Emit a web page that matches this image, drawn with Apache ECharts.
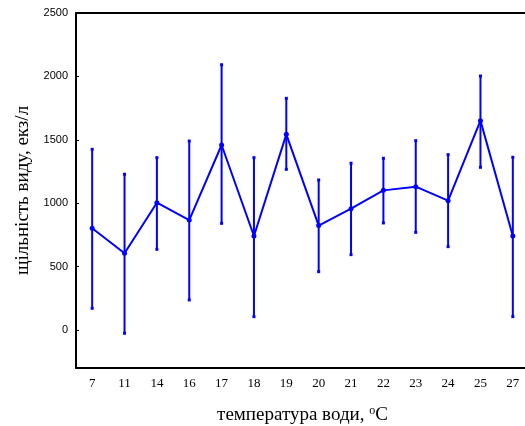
<!DOCTYPE html>
<html><head><meta charset="utf-8">
<script src="https://cdn.jsdelivr.net/npm/echarts@6/dist/echarts.min.js"></script>
<style>html,body{margin:0;padding:0;background:#fff}#c{width:525px;height:426px}</style>
</head><body><div id="c"></div>
<script>
const categories = ['7','11','14','16','17','18','19','20','21','22','23','24','25','27'];
const means = [802, 605, 1004, 867, 1459, 741, 1543, 823, 957, 1101, 1130, 1020, 1651, 741];
const upper = [1425, 1228, 1359, 1490, 2092, 1359, 1827, 1183, 1315, 1354, 1493, 1383, 2003, 1362];
const lower = [171, -26, 636, 237, 841, 105, 1267, 460, 594, 844, 770, 657, 1283, 105];
const yTicks = [0, 500, 1000, 1500, 2000, 2500];

const chart = echarts.init(document.getElementById('c'));
const blue = '#0000ff';
const errData = categories.map((c, i) => [i, lower[i], upper[i]]);
chart.setOption({
  animation: false,
  grid: {left: 76, top: 13, right: -4, bottom: 58, containLabel: false, outerBoundsMode: 'none'},
  xAxis: [{
    type: 'category', data: categories, position: 'bottom',
    boundaryGap: true,
    axisLine: {onZero: false, lineStyle: {color: '#000', width: 2}},
    axisTick: {inside: true, length: 3, alignWithLabel: true, lineStyle: {color: '#000'}},
    axisLabel: {color: '#000', fontFamily: 'Liberation Serif', fontSize: 13, margin: 9},
    name: 'температура води, {s|o}C', nameLocation: 'middle', nameGap: 37,
    nameTextStyle: {color: '#000', fontFamily: 'Liberation Serif', fontSize: 19,
      rich: {s: {fontSize: 12, verticalAlign: 'top', padding: [0,0,8,0], fontFamily: 'Liberation Serif', color: '#000'}}},
    splitLine: {show: false}
  }, {
    type: 'category', data: categories, position: 'top',
    boundaryGap: true,
    axisLine: {onZero: false, lineStyle: {color: '#000', width: 2}},
    axisTick: {inside: true, length: 3, alignWithLabel: true, lineStyle: {color: '#000'}},
    axisLabel: {show: false},
    splitLine: {show: false}
  }],
  yAxis: {
    type: 'value', min: -300, max: 2500,
    axisLine: {show: true, onZero: false, lineStyle: {color: '#000', width: 2}},
    axisTick: {show: true, inside: true, length: 3, customValues: yTicks, lineStyle: {color: '#000'}},
    axisLabel: {customValues: yTicks, formatter: v => String(v), color: '#000', fontFamily: 'Liberation Sans', fontSize: 11, margin: 8},
    splitLine: {show: false},
    name: 'щільність виду, екз/л', nameLocation: 'middle', nameGap: 42,
    nameTextStyle: {color: '#000', fontFamily: 'Liberation Serif', fontSize: 19}
  },
  series: [{
    type: 'custom',
    data: errData,
    z: 2,
    renderItem: function (params, api) {
      const x = api.value(0);
      const lo = api.coord([x, api.value(1)]);
      const hi = api.coord([x, api.value(2)]);
      const st = {stroke: blue, lineWidth: 2};
      return {type: 'group', children: [
        {type: 'line', shape: {x1: lo[0], y1: lo[1], x2: hi[0], y2: hi[1]}, style: st},
        {type: 'rect', shape: {x: lo[0]-1.5, y: lo[1]-1.5, width: 3, height: 3}, style: {fill: blue}},
        {type: 'rect', shape: {x: hi[0]-1.5, y: hi[1]-1.5, width: 3, height: 3}, style: {fill: blue}}
      ]};
    }
  }, {
    type: 'line', data: means, z: 3,
    symbol: 'circle', symbolSize: 5,
    itemStyle: {color: blue},
    lineStyle: {color: blue, width: 2}
  }]
});
</script></body></html>
